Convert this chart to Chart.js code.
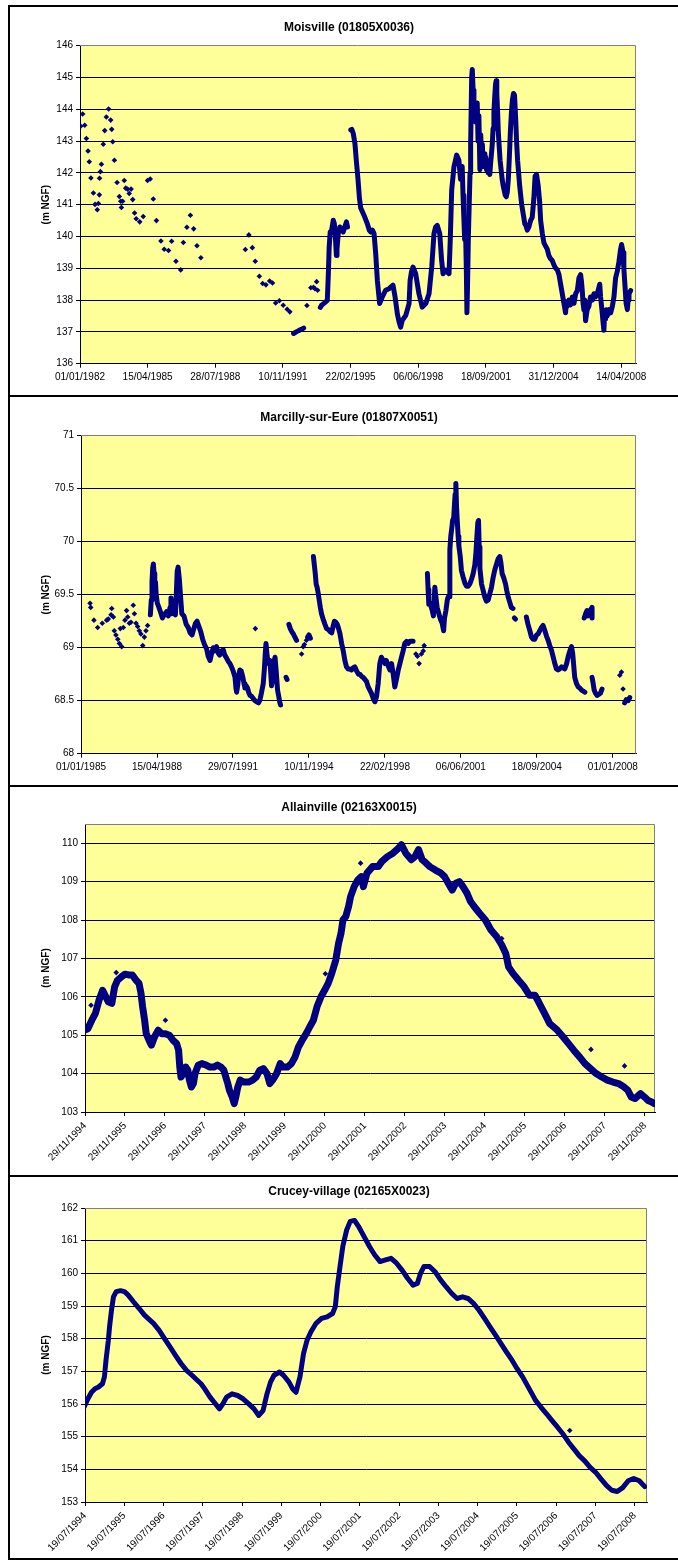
<!DOCTYPE html>
<html>
<head>
<meta charset="utf-8">
<script src="https://cdn.jsdelivr.net/npm/chart.js@4.4.1/dist/chart.umd.min.js"></script>
<style>
  html, body { margin: 0; padding: 0; background: #fff; overflow: hidden; width: 678px; height: 1560px; }
  .panel { position: absolute; left: 8px; width: 700px; border-left: 2px solid #000; border-top: 2px solid #000; }
  .panel canvas { position: absolute; left: 0; top: 0; }
</style>
</head>
<body>
<div class="panel" style="top:5px;height:388px"><canvas id="moisville" width="678" height="388"></canvas></div>
<div class="panel" style="top:395px;height:388px"><canvas id="marcilly" width="678" height="388"></canvas></div>
<div class="panel" style="top:785px;height:388px"><canvas id="allainville" width="678" height="388"></canvas></div>
<div class="panel" style="top:1175px;height:381px;border-bottom:2px solid #000"><canvas id="crucey" width="678" height="381"></canvas></div>
<script>
// Dates des graduations (axe X) et bornes
const moisTicks = ['01/01/1982', '15/04/1985', '28/07/1988', '10/11/1991', '22/02/1995', '06/06/1998', '18/09/2001', '31/12/2004', '14/04/2008'];
const marcTicks = ['01/01/1985', '15/04/1988', '29/07/1991', '10/11/1994', '22/02/1998', '06/06/2001', '18/09/2004', '01/01/2008'];
const allaTicks = ['29/11/1994', '29/11/1995', '29/11/1996', '29/11/1997', '29/11/1998', '29/11/1999', '29/11/2000', '29/11/2001', '29/11/2002', '29/11/2003', '29/11/2004', '29/11/2005', '29/11/2006', '29/11/2007', '29/11/2008'];
const cruTicks = ['19/07/1994', '19/07/1995', '19/07/1996', '19/07/1997', '19/07/1998', '19/07/1999', '19/07/2000', '19/07/2001', '19/07/2002', '19/07/2003', '19/07/2004', '19/07/2005', '19/07/2006', '19/07/2007', '19/07/2008'];

// Graduations Y (m NGF)
const moisYTicks = [136, 137, 138, 139, 140, 141, 142, 143, 144, 145, 146];
const marcYTicks = [68, 68.5, 69, 69.5, 70, 70.5, 71];
const allaYTicks = [103, 104, 105, 106, 107, 108, 109, 110];
const cruYTicks = [153, 154, 155, 156, 157, 158, 159, 160, 161, 162];

// Moisville : mesures isolees [annee decimale, niveau]
const moisDots = [
  [1982.03, 143.47], [1982.13, 143.85], [1982.23, 143.50], [1982.31, 143.08], [1982.39, 142.69], [1982.45, 142.35],
  [1982.53, 141.84], [1982.65, 141.37], [1982.73, 141.01], [1982.84, 140.84], [1982.89, 141.04], [1982.94, 141.31],
  [1982.95, 141.83], [1982.99, 142.04], [1983.04, 142.27], [1983.13, 142.90], [1983.20, 143.33], [1983.28, 143.76],
  [1983.39, 144.01], [1983.49, 143.66], [1983.54, 143.37], [1983.59, 142.98], [1983.67, 142.40], [1983.80, 141.70],
  [1983.91, 141.26], [1983.98, 141.11], [1984.01, 140.91], [1984.07, 141.11], [1984.15, 141.76], [1984.22, 141.52],
  [1984.31, 141.49], [1984.39, 141.35], [1984.48, 141.49], [1984.56, 141.16], [1984.65, 140.74], [1984.73, 140.56],
  [1984.90, 140.46], [1985.07, 140.63], [1985.28, 141.76], [1985.41, 141.81], [1985.56, 141.18], [1985.71, 140.50],
  [1985.93, 139.86], [1986.09, 139.60], [1986.30, 139.56], [1986.45, 139.85], [1986.66, 139.22], [1986.89, 138.95],
  [1987.02, 139.81], [1987.19, 140.29], [1987.36, 140.67], [1987.52, 140.24], [1987.68, 139.71], [1987.87, 139.33],
  [1990.03, 139.59], [1990.20, 140.05], [1990.37, 139.65], [1990.51, 139.22], [1990.71, 138.75], [1990.87, 138.52],
  [1991.03, 138.48], [1991.21, 138.60], [1991.35, 138.54], [1991.50, 137.91], [1991.68, 137.98], [1991.87, 137.84],
  [1992.06, 137.71], [1992.19, 137.63], [1993.02, 137.83], [1993.21, 138.39], [1993.34, 138.40], [1993.41, 138.36],
  [1993.49, 138.58], [1993.54, 138.31]
];
// Moisville : suivi continu (null = interruption)
const moisLine = [
  [1992.37, 136.95], [1992.50, 137.00], [1992.62, 137.04], [1992.75, 137.08], [1992.86, 137.12], null,
  [1993.67, 137.77], [1993.73, 137.84], [1993.89, 137.92], [1994.01, 137.99], [1994.06, 138.83], [1994.10, 139.67],
  [1994.15, 140.14], [1994.22, 140.20], [1994.30, 140.51], [1994.35, 140.41], [1994.41, 139.88], [1994.45, 139.40],
  [1994.48, 139.60], [1994.54, 140.09], [1994.62, 140.30], [1994.70, 140.25], [1994.78, 140.14], [1994.86, 140.30],
  [1994.94, 140.46], [1994.99, 140.30], null,
  [1995.15, 143.35], [1995.20, 143.37], [1995.27, 143.24], [1995.35, 142.93], [1995.43, 142.30], [1995.50, 141.80],
  [1995.57, 141.20], [1995.63, 140.90], [1995.79, 140.67], [1995.95, 140.41], [1996.05, 140.20], [1996.12, 140.14],
  [1996.20, 140.20], [1996.28, 140.09], [1996.36, 139.46], [1996.44, 138.62], [1996.55, 137.89], [1996.68, 138.10],
  [1996.84, 138.31], [1997.01, 138.36], [1997.20, 138.47], [1997.30, 138.10], [1997.41, 137.57], [1997.50, 137.30],
  [1997.57, 137.15], [1997.65, 137.36], [1997.82, 137.52], [1997.98, 137.89], [1998.03, 138.62], [1998.10, 138.90],
  [1998.17, 139.04], [1998.30, 138.83], [1998.46, 138.20], [1998.62, 137.78], [1998.79, 137.89], [1998.95, 138.20],
  [1999.08, 139.04], [1999.19, 140.09], [1999.27, 140.30], [1999.35, 140.35], [1999.47, 140.09], [1999.56, 139.25],
  [1999.63, 138.83], [1999.76, 138.94], [1999.92, 138.83], [1999.98, 139.88], [2000.05, 141.46], [2000.16, 142.19],
  [2000.29, 142.56], [2000.40, 142.40], [2000.48, 141.80], [2000.56, 142.20], [2000.60, 141.30], [2000.64, 140.60],
  [2000.68, 139.90], [2000.72, 140.30], [2000.76, 139.00], [2000.79, 137.60], [2000.82, 138.50], [2000.86, 140.00],
  [2000.90, 141.00], [2000.94, 142.00], [2000.97, 142.90], [2001.02, 145.00], [2001.05, 145.25], [2001.09, 144.60],
  [2001.13, 144.10], [2001.21, 143.60], [2001.29, 144.20], [2001.33, 143.00], [2001.37, 143.80], [2001.42, 142.10],
  [2001.46, 143.20], [2001.50, 142.40], [2001.54, 142.90], [2001.58, 142.20], [2001.62, 142.60], [2001.66, 142.30],
  [2001.70, 142.50], [2001.74, 142.10], [2001.78, 142.40], [2001.82, 142.00], [2001.86, 142.20], [2001.90, 141.95],
  [2001.94, 142.30], [2001.98, 142.60], [2002.02, 142.90], [2002.06, 143.40], [2002.10, 143.90], [2002.14, 144.40],
  [2002.18, 144.80], [2002.21, 144.90], [2002.24, 144.50], [2002.28, 143.90], [2002.32, 143.20], [2002.36, 142.80],
  [2002.40, 142.40], [2002.45, 142.10], [2002.50, 141.80], [2002.55, 141.60], [2002.60, 141.45], [2002.65, 141.30],
  [2002.70, 141.25], [2002.75, 141.40], [2002.80, 141.80], [2002.85, 142.50], [2002.90, 143.30], [2002.95, 143.90],
  [2003.00, 144.30], [2003.05, 144.50], [2003.10, 144.45], [2003.15, 143.80], [2003.20, 143.00], [2003.25, 142.40],
  [2003.30, 142.00], [2003.35, 141.60], [2003.40, 141.30], [2003.45, 141.00], [2003.50, 140.80], [2003.55, 140.60],
  [2003.60, 140.40], [2003.65, 140.35], [2003.72, 140.20], [2003.80, 140.30], [2003.88, 140.50], [2003.96, 140.60],
  [2004.04, 141.20], [2004.10, 141.90], [2004.17, 141.95], [2004.25, 141.60], [2004.32, 141.10], [2004.37, 140.50],
  [2004.45, 140.10], [2004.53, 139.80], [2004.61, 139.70], [2004.69, 139.60], [2004.77, 139.40], [2004.85, 139.30],
  [2004.93, 139.25], [2005.02, 139.10], [2005.10, 139.00], [2005.18, 138.95], [2005.26, 138.80], [2005.34, 138.50],
  [2005.42, 138.20], [2005.50, 137.90], [2005.58, 137.60], [2005.62, 137.95], [2005.66, 137.80], [2005.74, 138.00],
  [2005.82, 137.85], [2005.91, 138.10], [2005.99, 137.90], [2006.07, 138.20], [2006.15, 138.30], [2006.23, 138.70],
  [2006.31, 138.80], [2006.35, 138.60], [2006.39, 138.30], [2006.43, 137.90], [2006.47, 137.70], [2006.51, 138.00],
  [2006.55, 137.35], [2006.63, 137.70], [2006.71, 137.80], [2006.79, 138.10], [2006.88, 138.00], [2006.96, 138.20],
  [2007.04, 138.10], [2007.12, 138.20], [2007.20, 138.40], [2007.24, 138.50], [2007.28, 138.10], [2007.36, 137.60],
  [2007.40, 137.30], [2007.44, 137.05], [2007.48, 137.60], [2007.52, 137.40], [2007.56, 137.70], [2007.60, 137.50],
  [2007.69, 137.70], [2007.77, 137.60], [2007.85, 137.80], [2007.93, 138.10], [2008.01, 138.70], [2008.09, 138.90],
  [2008.17, 139.20], [2008.25, 139.60], [2008.30, 139.75], [2008.37, 139.50], [2008.41, 139.00], [2008.45, 138.60],
  [2008.52, 137.90], [2008.58, 137.70], [2008.62, 138.00], [2008.66, 138.20], [2008.74, 138.30]
];

// Marcilly-sur-Eure
const marcDots = [
  [1985.39, 69.42], [1985.42, 69.38], [1985.56, 69.26], [1985.72, 69.19], [1985.92, 69.23], [1986.11, 69.26],
  [1986.18, 69.27], [1986.30, 69.31], [1986.33, 69.37], [1986.40, 69.29], [1986.44, 69.16], [1986.51, 69.12],
  [1986.59, 69.08], [1986.66, 69.04], [1986.70, 69.18], [1986.76, 69.01], [1986.83, 69.19], [1986.90, 69.26],
  [1986.97, 69.35], [1987.02, 69.29], [1987.09, 69.23], [1987.16, 69.24], [1987.26, 69.40], [1987.31, 69.32],
  [1987.38, 69.23], [1987.45, 69.20], [1987.52, 69.16], [1987.59, 69.13], [1987.67, 69.02], [1987.74, 69.10],
  [1987.81, 69.16], [1987.88, 69.21], [1992.54, 69.18], [1994.54, 68.94], [1994.61, 69.01], [1994.66, 69.03],
  [1994.75, 69.07], [1999.48, 68.94], [1999.55, 68.92], [1999.62, 68.85], [1999.72, 68.94], [1999.80, 68.97],
  [1999.84, 69.02], [2008.30, 68.74], [2008.37, 68.77], [2008.44, 68.61]
];
const marcLine = [
  [1988.00, 69.31], [1988.04, 69.45], [1988.07, 69.62], [1988.10, 69.75], [1988.13, 69.79], [1988.16, 69.70],
  [1988.19, 69.55], [1988.22, 69.62], [1988.25, 69.50], [1988.30, 69.42], [1988.37, 69.38], [1988.45, 69.33],
  [1988.52, 69.28], [1988.60, 69.31], [1988.70, 69.34], [1988.78, 69.30], [1988.85, 69.38], [1988.89, 69.47],
  [1988.93, 69.32], [1989.00, 69.33], [1989.08, 69.31], [1989.13, 69.55], [1989.16, 69.72], [1989.20, 69.76],
  [1989.25, 69.65], [1989.30, 69.50], [1989.36, 69.32], [1989.45, 69.30], [1989.55, 69.22], [1989.64, 69.19],
  [1989.72, 69.14], [1989.80, 69.12], [1989.88, 69.18], [1989.95, 69.23], [1990.02, 69.25], [1990.10, 69.20],
  [1990.18, 69.15], [1990.26, 69.08], [1990.34, 69.03], [1990.43, 68.99], [1990.50, 68.92], [1990.58, 68.88],
  [1990.65, 68.95], [1990.72, 69.00], [1990.79, 68.97], [1990.86, 69.01], [1990.93, 68.95], [1991.00, 68.93],
  [1991.08, 68.97], [1991.15, 68.98], [1991.22, 68.93], [1991.30, 68.90], [1991.37, 68.87], [1991.44, 68.85],
  [1991.51, 68.82], [1991.58, 68.78], [1991.66, 68.72], [1991.70, 68.62], [1991.73, 68.58], [1991.78, 68.65],
  [1991.82, 68.74], [1991.87, 68.79], [1991.93, 68.78], [1992.00, 68.72], [1992.05, 68.66], [1992.09, 68.62],
  [1992.15, 68.64], [1992.20, 68.62], [1992.25, 68.58], [1992.31, 68.55], [1992.38, 68.54], [1992.45, 68.52],
  [1992.52, 68.50], [1992.60, 68.49], [1992.68, 68.48], [1992.74, 68.51], [1992.80, 68.57], [1992.88, 68.66],
  [1992.93, 68.80], [1992.97, 68.95], [1993.00, 69.04], [1993.05, 68.92], [1993.10, 68.85], [1993.17, 68.88],
  [1993.24, 68.64], [1993.30, 68.72], [1993.36, 68.88], [1993.39, 68.91], [1993.44, 68.78], [1993.50, 68.60],
  [1993.56, 68.53], [1993.60, 68.48], [1993.63, 68.46], null,
  [1993.87, 68.72], [1993.91, 68.70], null,
  [1993.99, 69.22], [1994.05, 69.18], [1994.12, 69.15], [1994.18, 69.13], [1994.25, 69.10], [1994.32, 69.07], null,
  [1994.80, 69.10], [1994.86, 69.12], [1994.92, 69.09], null,
  [1995.05, 69.86], [1995.09, 69.78], [1995.13, 69.70], [1995.17, 69.60], [1995.21, 69.57], [1995.26, 69.51],
  [1995.30, 69.45], [1995.35, 69.38], [1995.40, 69.32], [1995.47, 69.27], [1995.55, 69.22], [1995.62, 69.18],
  [1995.70, 69.17], [1995.78, 69.15], [1995.84, 69.14], [1995.90, 69.20], [1995.96, 69.25], [1996.02, 69.24],
  [1996.08, 69.22], [1996.14, 69.18], [1996.20, 69.13], [1996.27, 69.04], [1996.34, 68.97], [1996.41, 68.88],
  [1996.48, 68.82], [1996.55, 68.80], [1996.62, 68.80], [1996.70, 68.79], [1996.77, 68.81], [1996.84, 68.82],
  [1996.92, 68.78], [1997.00, 68.75], [1997.06, 68.75], [1997.13, 68.73], [1997.20, 68.72], [1997.28, 68.70],
  [1997.35, 68.68], [1997.42, 68.63], [1997.49, 68.60], [1997.56, 68.57], [1997.64, 68.52], [1997.71, 68.49],
  [1997.78, 68.54], [1997.85, 68.66], [1997.92, 68.85], [1997.99, 68.91], [1998.06, 68.88], [1998.14, 68.85],
  [1998.20, 68.88], [1998.25, 68.85], [1998.30, 68.82], [1998.36, 68.79], [1998.43, 68.85], [1998.50, 68.75],
  [1998.57, 68.63], [1998.64, 68.70], [1998.72, 68.79], [1998.79, 68.85], [1998.86, 68.91], [1998.93, 68.97],
  [1999.00, 69.04], [1999.08, 69.06], [1999.15, 69.04], [1999.22, 69.06], [1999.29, 69.06], [1999.36, 69.06], null,
  [1999.98, 69.70], [2000.01, 69.55], [2000.04, 69.41], [2000.10, 69.42], [2000.15, 69.38], [2000.19, 69.35],
  [2000.24, 69.30], [2000.30, 69.57], [2000.35, 69.47], [2000.40, 69.38], [2000.44, 69.35], [2000.50, 69.30],
  [2000.56, 69.26], [2000.62, 69.23], [2000.68, 69.16], [2000.72, 69.28], [2000.78, 69.35], [2000.84, 69.45],
  [2000.88, 69.48], [2000.92, 69.48], [2000.95, 69.92], [2000.99, 70.05], [2001.03, 70.12], [2001.07, 70.20],
  [2001.12, 70.23], [2001.15, 70.35], [2001.18, 70.45], [2001.21, 70.55], [2001.24, 70.33], [2001.27, 70.20],
  [2001.31, 70.05], [2001.34, 69.96], [2001.40, 69.86], [2001.45, 69.73], [2001.52, 69.67], [2001.60, 69.61],
  [2001.67, 69.58], [2001.74, 69.58], [2001.81, 69.60], [2001.88, 69.64], [2001.96, 69.70], [2002.03, 69.78],
  [2002.08, 69.90], [2002.12, 70.05], [2002.16, 70.18], [2002.19, 70.20], [2002.22, 69.95], [2002.25, 69.75],
  [2002.32, 69.60], [2002.39, 69.54], [2002.46, 69.48], [2002.53, 69.44], [2002.61, 69.45], [2002.68, 69.51],
  [2002.75, 69.57], [2002.82, 69.66], [2002.89, 69.73], [2002.97, 69.79], [2003.04, 69.84], [2003.11, 69.86],
  [2003.16, 69.80], [2003.21, 69.70], [2003.28, 69.66], [2003.36, 69.60], [2003.41, 69.54], [2003.47, 69.48],
  [2003.54, 69.43], [2003.61, 69.38], [2003.68, 69.37], null,
  [2003.74, 69.28], [2003.79, 69.27], null,
  [2004.26, 69.29], [2004.33, 69.22], [2004.41, 69.16], [2004.48, 69.10], [2004.55, 69.08], [2004.62, 69.08],
  [2004.70, 69.12], [2004.77, 69.13], [2004.84, 69.16], [2004.91, 69.19], [2004.98, 69.21], [2005.06, 69.16],
  [2005.13, 69.11], [2005.20, 69.07], [2005.27, 69.02], [2005.34, 68.98], [2005.41, 68.92], [2005.49, 68.85],
  [2005.56, 68.80], [2005.63, 68.79], [2005.70, 68.80], [2005.78, 68.82], [2005.85, 68.81], [2005.92, 68.80],
  [2006.00, 68.85], [2006.07, 68.92], [2006.14, 68.97], [2006.21, 69.01], [2006.26, 68.95], [2006.30, 68.85],
  [2006.35, 68.72], [2006.43, 68.66], [2006.50, 68.63], [2006.57, 68.62], [2006.64, 68.60], [2006.72, 68.59],
  [2006.79, 68.58], null,
  [2006.76, 69.28], [2006.82, 69.32], [2006.88, 69.35], [2006.93, 69.30], [2006.98, 69.33], [2007.04, 69.36],
  [2007.10, 69.38], [2007.10, 69.28], null,
  [2007.10, 68.72], [2007.15, 68.66], [2007.19, 68.60], [2007.25, 68.57], [2007.32, 68.55], [2007.39, 68.56],
  [2007.46, 68.57], [2007.53, 68.61], null,
  [2008.51, 68.48], [2008.58, 68.51], [2008.66, 68.50], [2008.73, 68.53]
];

// Allainville
const allaLine = [
  [1994.89, 105.13], [1994.98, 105.17], [1995.08, 105.39], [1995.17, 105.57], [1995.26, 105.91], [1995.35, 106.17],
  [1995.43, 106.00], [1995.49, 105.87], [1995.58, 105.83], [1995.65, 106.26], [1995.72, 106.43], [1995.82, 106.52],
  [1995.91, 106.59], [1996.00, 106.57], [1996.09, 106.57], [1996.19, 106.43], [1996.26, 106.35], [1996.31, 106.09],
  [1996.35, 105.74], [1996.40, 105.39], [1996.44, 105.04], [1996.51, 104.87], [1996.57, 104.74], [1996.65, 104.96],
  [1996.74, 105.13], [1996.83, 105.04], [1996.92, 105.04], [1997.02, 105.00], [1997.11, 104.87], [1997.20, 104.78],
  [1997.25, 104.61], [1997.28, 104.17], [1997.31, 103.91], [1997.37, 104.00], [1997.43, 104.17], [1997.48, 104.09],
  [1997.52, 103.83], [1997.57, 103.65], [1997.62, 103.74], [1997.66, 104.00], [1997.74, 104.22], [1997.83, 104.26],
  [1997.94, 104.22], [1998.03, 104.17], [1998.13, 104.17], [1998.22, 104.22], [1998.31, 104.17], [1998.38, 104.09],
  [1998.43, 103.91], [1998.48, 103.74], [1998.52, 103.57], [1998.59, 103.39], [1998.64, 103.22], [1998.68, 103.39],
  [1998.73, 103.65], [1998.79, 103.83], [1998.88, 103.78], [1999.00, 103.78], [1999.10, 103.83], [1999.19, 103.91],
  [1999.28, 104.09], [1999.37, 104.13], [1999.46, 104.00], [1999.53, 103.74], [1999.60, 103.83], [1999.70, 104.00],
  [1999.79, 104.26], [1999.86, 104.17], [1999.97, 104.17], [2000.07, 104.26], [2000.16, 104.43], [2000.25, 104.70],
  [2000.34, 104.87], [2000.44, 105.04], [2000.53, 105.22], [2000.62, 105.39], [2000.71, 105.74], [2000.81, 106.00],
  [2000.90, 106.17], [2000.99, 106.35], [2001.08, 106.61], [2001.18, 106.96], [2001.25, 107.39], [2001.31, 107.65],
  [2001.36, 108.00], [2001.43, 108.09], [2001.50, 108.35], [2001.55, 108.61], [2001.64, 108.87], [2001.73, 109.04],
  [2001.82, 109.13], [2001.87, 108.87], [2001.96, 109.22], [2002.10, 109.39], [2002.24, 109.39], [2002.33, 109.52],
  [2002.47, 109.65], [2002.61, 109.74], [2002.75, 109.87], [2002.82, 109.96], [2002.93, 109.74], [2003.07, 109.57],
  [2003.16, 109.65], [2003.25, 109.83], [2003.34, 109.57], [2003.44, 109.48], [2003.53, 109.39], [2003.67, 109.30],
  [2003.81, 109.22], [2003.90, 109.13], [2003.99, 108.96], [2004.09, 108.78], [2004.18, 108.96], [2004.27, 109.00],
  [2004.36, 108.87], [2004.46, 108.70], [2004.55, 108.48], [2004.64, 108.35], [2004.78, 108.17], [2004.92, 108.00],
  [2005.06, 107.74], [2005.20, 107.57], [2005.33, 107.35], [2005.43, 107.13], [2005.50, 106.78], [2005.61, 106.61],
  [2005.75, 106.43], [2005.89, 106.26], [2006.02, 106.04], [2006.16, 106.04], [2006.25, 105.87], [2006.40, 105.57],
  [2006.53, 105.30], [2006.72, 105.13], [2006.86, 104.96], [2007.00, 104.78], [2007.13, 104.61], [2007.28, 104.43],
  [2007.41, 104.26], [2007.55, 104.13], [2007.69, 104.00], [2007.83, 103.91], [2007.97, 103.83], [2008.11, 103.78],
  [2008.25, 103.74], [2008.39, 103.65], [2008.48, 103.57], [2008.57, 103.39], [2008.66, 103.35], [2008.80, 103.48],
  [2008.90, 103.39], [2008.99, 103.30], [2009.08, 103.26], [2009.14, 103.22]
];
const allaDots = [
  [1995.06, 105.78], [1995.69, 106.63], [1996.92, 105.39], [2000.92, 106.60], [2001.80, 109.48], [2005.33, 107.52],
  [2007.56, 104.63], [2008.40, 104.20]
];

// Crucey-village
const cruLine = [
  [1994.52, 155.90], [1994.62, 156.16], [1994.71, 156.36], [1994.80, 156.47], [1994.89, 156.52], [1994.99, 156.62],
  [1995.04, 156.83], [1995.08, 157.34], [1995.14, 157.95], [1995.17, 158.36], [1995.22, 158.87], [1995.27, 159.28],
  [1995.34, 159.44], [1995.45, 159.47], [1995.55, 159.44], [1995.64, 159.34], [1995.78, 159.13], [1995.92, 158.93],
  [1996.06, 158.72], [1996.15, 158.62], [1996.29, 158.47], [1996.43, 158.26], [1996.57, 158.00], [1996.71, 157.75],
  [1996.85, 157.49], [1996.99, 157.24], [1997.13, 157.03], [1997.27, 156.88], [1997.41, 156.72], [1997.50, 156.62],
  [1997.59, 156.47], [1997.73, 156.21], [1997.83, 156.06], [1997.97, 155.85], [1998.06, 156.01], [1998.15, 156.21],
  [1998.29, 156.31], [1998.43, 156.26], [1998.57, 156.16], [1998.71, 156.01], [1998.85, 155.85], [1998.97, 155.65],
  [1999.08, 155.80], [1999.18, 156.31], [1999.27, 156.67], [1999.36, 156.88], [1999.50, 156.98], [1999.60, 156.88],
  [1999.74, 156.67], [1999.83, 156.47], [1999.92, 156.36], [2000.02, 156.83], [2000.11, 157.54], [2000.20, 157.95],
  [2000.30, 158.21], [2000.43, 158.47], [2000.57, 158.62], [2000.71, 158.67], [2000.85, 158.77], [2000.92, 158.98],
  [2000.97, 159.59], [2001.04, 160.21], [2001.11, 160.82], [2001.21, 161.33], [2001.30, 161.59], [2001.41, 161.62],
  [2001.51, 161.44], [2001.65, 161.13], [2001.79, 160.82], [2001.92, 160.57], [2002.06, 160.36], [2002.20, 160.41],
  [2002.34, 160.46], [2002.48, 160.31], [2002.62, 160.10], [2002.76, 159.85], [2002.90, 159.64], [2003.01, 159.69],
  [2003.09, 160.00], [2003.18, 160.21], [2003.32, 160.21], [2003.46, 160.05], [2003.60, 159.80], [2003.74, 159.59],
  [2003.88, 159.39], [2004.02, 159.23], [2004.16, 159.28], [2004.30, 159.23], [2004.44, 159.08], [2004.58, 158.87],
  [2004.72, 158.62], [2004.86, 158.36], [2005.00, 158.11], [2005.14, 157.85], [2005.28, 157.59], [2005.42, 157.34],
  [2005.55, 157.08], [2005.69, 156.83], [2005.81, 156.57], [2005.93, 156.31], [2006.02, 156.11], [2006.16, 155.90],
  [2006.30, 155.70], [2006.44, 155.49], [2006.58, 155.29], [2006.72, 155.08], [2006.86, 154.83], [2007.00, 154.62],
  [2007.13, 154.42], [2007.27, 154.26], [2007.41, 154.06], [2007.55, 153.91], [2007.69, 153.70], [2007.83, 153.50],
  [2007.96, 153.36], [2008.10, 153.32], [2008.24, 153.44], [2008.38, 153.65], [2008.52, 153.72], [2008.66, 153.65],
  [2008.80, 153.47]
];
const cruDots = [[2006.89, 155.19]];

const navy = '#000080';
const fontFamily = '"Liberation Sans", Arial, sans-serif';

// jj/mm/aaaa -> annee decimale
const decYear = (s) => {
  const [d, m, y] = s.split('/').map(Number);
  const start = Date.UTC(y, 0, 1);
  const end = Date.UTC(y + 1, 0, 1);
  return y + (Date.UTC(y, m - 1, d) - start) / (end - start);
};

// paires -> points Chart.js, null = coupure de la courbe
const toXY = (pairs) => {
  let lastX = 0;
  return pairs.map(p => {
    if (!p) return { x: lastX, y: null };
    lastX = p[0];
    return { x: p[0], y: p[1] };
  });
};

// fond jaune et cadre gris de la zone de tracé
const plotFrame = {
  id: 'plotFrame',
  beforeDraw(chart) {
    const a = chart.chartArea, ctx = chart.ctx;
    ctx.save();
    ctx.fillStyle = '#FFFF99';
    ctx.fillRect(a.left, a.top, a.right - a.left, a.bottom - a.top);
    ctx.restore();
  },
  beforeDatasetsDraw(chart) {
    const a = chart.chartArea, ctx = chart.ctx;
    const t = Math.floor(a.top) + 0.5, r = Math.floor(a.right) - 0.5;
    ctx.save();
    ctx.strokeStyle = '#808080';
    ctx.lineWidth = 1;
    ctx.beginPath();
    ctx.moveTo(a.left, t);
    ctx.lineTo(r, t);
    ctx.lineTo(r, a.bottom);
    ctx.stroke();
    ctx.restore();
  }
};

const makeChart = (id, o) => {
  const xVals = o.xLabels.map(decYear);
  new Chart(document.getElementById(id), {
    type: 'scatter',
    data: {
      datasets: [
        {
          data: toXY(o.line),
          showLine: true,
          spanGaps: false,
          borderColor: navy,
          backgroundColor: navy,
          borderWidth: o.lineWidth,
          borderJoinStyle: 'round',
          borderCapStyle: 'round',
          pointRadius: 0,
        },
        {
          data: toXY(o.dots),
          showLine: false,
          pointStyle: 'rectRot',
          pointRadius: 2.8,
          backgroundColor: navy,
          borderColor: navy,
          borderWidth: 0,
        },
      ],
    },
    options: {
      responsive: false,
      animation: false,
      devicePixelRatio: 1,
      layout: { padding: 0 },
      plugins: {
        legend: { display: false },
        tooltip: { enabled: false },
        title: {
          display: true,
          text: o.title,
          color: '#000',
          font: { family: fontFamily, size: 12, weight: 'bold' },
          padding: { top: o.titleTop, bottom: o.titleBottom },
        },
      },
      scales: {
        x: {
          type: 'linear',
          min: xVals[0],
          max: decYear(o.xMax),
          afterBuildTicks: (s) => { s.ticks = xVals.map(v => ({ value: v })); },
          afterFit: (s) => { s.height = o.xHeight; },
          ticks: {
            autoSkip: false,
            minRotation: o.rotation,
            maxRotation: o.rotation,
            color: '#000',
            padding: 4,
            font: { family: fontFamily, size: 10 },
            callback: (v, i) => o.xLabels[i],
          },
          grid: { drawOnChartArea: false, drawTicks: true, tickLength: 4, tickColor: '#000' },
          border: { display: true, color: '#000', width: 1 },
        },
        y: {
          type: 'linear',
          min: o.yTicks[0],
          max: o.yMax,
          afterBuildTicks: (s) => { s.ticks = o.yTicks.map(v => ({ value: v })); },
          afterFit: (s) => { s.width = o.yWidth; },
          ticks: {
            color: '#000',
            padding: 3,
            font: { family: fontFamily, size: 10 },
            callback: (v) => String(v),
          },
          grid: {
            color: (c) => (c.tick && c.tick.value >= o.yMax ? 'rgba(0,0,0,0)' : '#000'),
            lineWidth: 1,
            drawTicks: true,
            tickLength: 4,
            tickColor: '#000',
          },
          border: { display: true, color: '#000', width: 1 },
          title: {
            display: true,
            text: '(m NGF)',
            color: '#000',
            font: { family: fontFamily, size: 10, weight: 'bold' },
            padding: { top: 30, bottom: 0 },
          },
        },
        // marge droite de la zone de tracé
        yRight: {
          type: 'linear',
          position: 'right',
          display: true,
          afterFit: (s) => { s.width = o.rightGap; },
          ticks: { display: false },
          grid: { display: false, drawTicks: false },
          border: { display: false },
        },
      },
    },
    plugins: [plotFrame],
  });
};

makeChart('moisville', {
  title: 'Moisville (01805X0036)', line: moisLine, dots: moisDots, lineWidth: 5,
  xLabels: moisTicks, xMax: '01/01/2009', rotation: 0, yTicks: moisYTicks, yMax: 146,
  titleTop: 13.8, titleBottom: 10.5, xHeight: 31.3, yWidth: 70, rightGap: 52,
});
makeChart('marcilly', {
  title: 'Marcilly-sur-Eure (01807X0051)', line: marcLine, dots: marcDots, lineWidth: 5,
  xLabels: marcTicks, xMax: '01/01/2009', rotation: 0, yTicks: marcYTicks, yMax: 71,
  titleTop: 13.8, titleBottom: 10.5, xHeight: 31.3, yWidth: 71, rightGap: 52,
});
makeChart('allainville', {
  title: 'Allainville (02163X0015)', line: allaLine, dots: allaDots, lineWidth: 7,
  xLabels: allaTicks, xMax: '01/03/2009', rotation: 45, yTicks: allaYTicks, yMax: 110.5,
  titleTop: 13.8, titleBottom: 8.8, xHeight: 63, yWidth: 75, rightGap: 33,
});
makeChart('crucey', {
  title: 'Crucey-village (02165X0023)', line: cruLine, dots: cruDots, lineWidth: 5,
  xLabels: cruTicks, xMax: '10/11/2008', rotation: 45, yTicks: cruYTicks, yMax: 162,
  titleTop: 7.8, titleBottom: 8.8, xHeight: 56, yWidth: 75, rightGap: 41,
});
</script>
</body>
</html>
